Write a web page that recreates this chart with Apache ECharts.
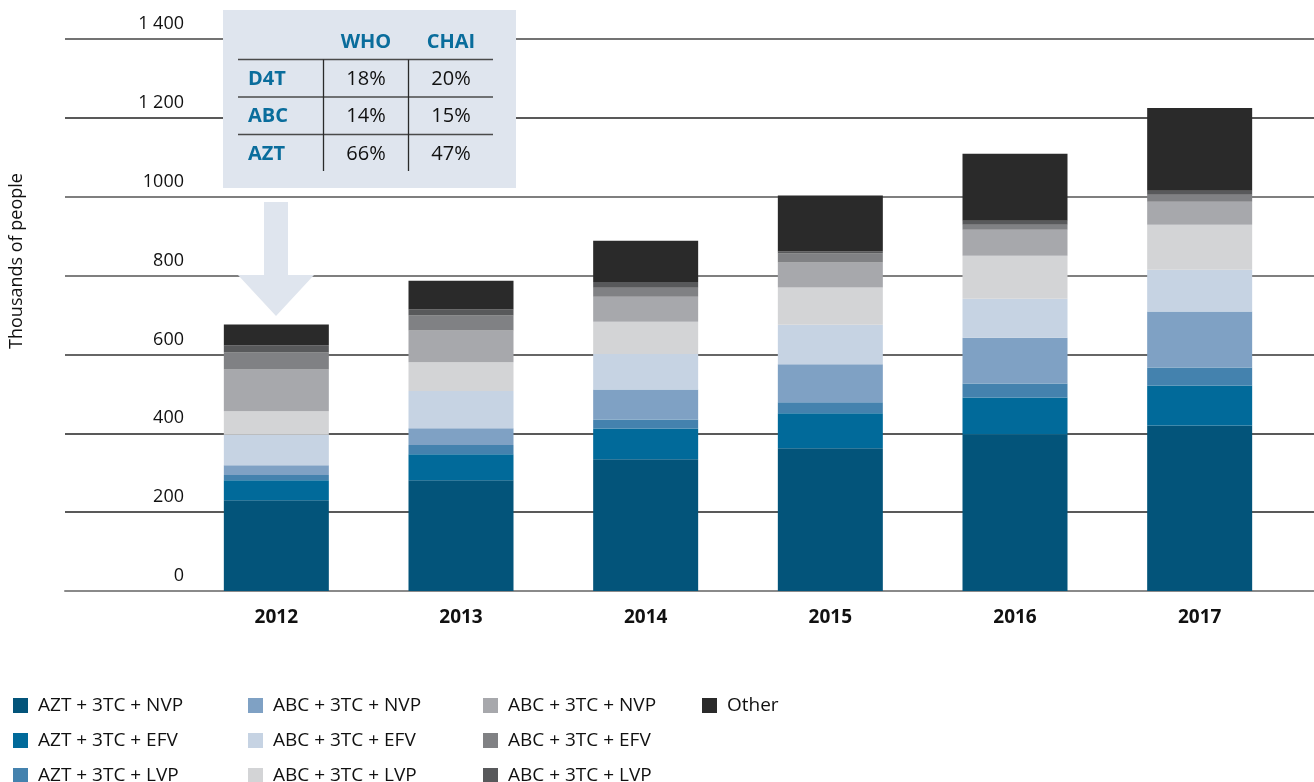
<!DOCTYPE html>
<html>
<head>
<meta charset="utf-8">
<script src="https://cdn.jsdelivr.net/npm/echarts@6/dist/echarts.min.js"></script>
<style>
html,body{margin:0;padding:0;background:#fff;}
#chart{width:1314px;height:782px;}
</style>
</head>
<body>
<div id="chart"></div>
<script>
// ---- data ----
var categories = ['2012', '2013', '2014', '2015', '2016', '2017'];
var aztNvp  = [230, 281, 334, 362, 397, 420];
var aztEfv  = [51, 66, 78, 89, 94, 101];
var aztLvp  = [13, 23, 23, 28, 35, 46];
var abcNvp  = [25, 43, 76, 96, 116, 142];
var abcEfv  = [77, 94, 90, 100, 99, 106];
var abcLvp  = [60, 73, 82, 95, 109, 114];
var greyNvp = [106, 81, 63, 63, 66, 58];
var greyEfv = [43, 38, 23, 23, 13, 18];
var greyLvp = [18, 15, 15, 5, 10, 10];
var other   = [53, 73, 104, 142, 170, 210];
var yTickLabels = ['0', '200', '400', '600', '800', '1000', '1 200', '1 400'];
var seriesNames = ['AZT + 3TC + NVP', 'AZT + 3TC + EFV', 'AZT + 3TC + LVP',
                   'ABC + 3TC + NVP', 'ABC + 3TC + EFV', 'ABC + 3TC + LVP',
                   'ABC + 3TC + NVP ', 'ABC + 3TC + EFV ', 'ABC + 3TC + LVP ',
                   'Other'];
var tableCols = ['WHO', 'CHAI'];
var tableRows = ['D4T', 'ABC', 'AZT'];
var tableVals = [['18%', '20%'], ['14%', '15%'], ['66%', '47%']];

// ---- styles ----
var seriesData = [aztNvp, aztEfv, aztLvp, abcNvp, abcEfv, abcLvp, greyNvp, greyEfv, greyLvp, other];
var colors = ['#03547a', '#016a9a', '#4482ae', '#7fa1c4', '#c6d3e3', '#d3d4d6', '#a7a8ac', '#808184', '#58595b', '#2a2a2a'];
var FONT = '"Open Sans", sans-serif';
var BOX = '#dfe5ee';
var BLUE = '#0a6d9c';

var chart = echarts.init(document.getElementById('chart'), null, {renderer: 'canvas'});

var series = seriesData.map(function (d, i) {
  return {
    name: seriesNames[i], type: 'bar', stack: 'total', data: d,
    xAxisIndex: 0, yAxisIndex: 0,
    barWidth: 105, itemStyle: {color: colors[i]}, emphasis: {disabled: true}
  };
});

function legendCol(names, left) {
  return {
    orient: 'vertical', left: left, top: 691, height: 160, width: 230,
    itemWidth: 15, itemHeight: 15, itemGap: 16,
    icon: 'rect', data: names, selectedMode: false,
    textStyle: {fontFamily: FONT, fontSize: 19, color: '#111', lineHeight: 18, padding: [0, 0, 0, 5]}
  };
}

var graphics = [];
// y-axis title
graphics.push({type: 'text', x: 17, y: 261, rotation: Math.PI / 2, z: 100,
  style: {text: 'Thousands of people', fill: '#111', font: '18px ' + FONT, align: 'center', verticalAlign: 'middle'}});
// table box
graphics.push({type: 'rect', shape: {x: 223, y: 10, width: 293, height: 178}, style: {fill: BOX}, z: 100});
// arrow
graphics.push({type: 'polygon', z: 100,
  shape: {points: [[264, 202], [288, 202], [288, 275], [314, 275], [276, 316], [238, 275], [264, 275]]},
  style: {fill: BOX}});
// table lines
[59.5, 97, 134.5].forEach(function (y) {
  graphics.push({type: 'line', z: 101, shape: {x1: 238, y1: y, x2: 493, y2: y}, style: {stroke: '#4a4a4a', lineWidth: 1.5}});
});
[323.5, 408.5].forEach(function (x) {
  graphics.push({type: 'line', z: 101, shape: {x1: x, y1: 59.5, x2: x, y2: 171}, style: {stroke: '#2a2a2a', lineWidth: 1.3}});
});
var colX = [366, 451];
var rowY = [79, 116, 154];
tableCols.forEach(function (t, j) {
  graphics.push({type: 'text', z: 102, x: colX[j], y: 42,
    style: {text: t, fill: BLUE, font: 'bold 20px ' + FONT, align: 'center', verticalAlign: 'middle'}});
});
tableRows.forEach(function (t, i) {
  graphics.push({type: 'text', z: 102, x: 248, y: rowY[i],
    style: {text: t, fill: BLUE, font: 'bold 20px ' + FONT, align: 'left', verticalAlign: 'middle'}});
  tableVals[i].forEach(function (v, j) {
    graphics.push({type: 'text', z: 102, x: colX[j], y: rowY[i],
      style: {text: v, fill: '#111', font: '20px ' + FONT, align: 'center', verticalAlign: 'middle'}});
  });
});

var option = {
  animation: false,
  backgroundColor: '#fff',
  textStyle: {fontFamily: FONT},
  grid: [
    {left: 184, right: 22, top: 39, bottom: 191},
    {left: 65, right: 0, top: 39, bottom: 191}
  ],
  xAxis: [
    {type: 'category', gridIndex: 0, data: categories,
     axisLine: {show: false}, axisTick: {show: false},
     axisLabel: {margin: 17, fontFamily: FONT, fontSize: 19, fontWeight: 'bold', color: '#111'}},
    {type: 'category', gridIndex: 1, data: categories, axisLabel: {show: false}, axisTick: {show: false},
     axisLine: {show: true, lineStyle: {color: '#8a8a8a', width: 2}}}
  ],
  yAxis: [
    {type: 'value', gridIndex: 0, min: 0, max: 1400, interval: 200,
     splitLine: {show: false}, axisLine: {show: false}, axisTick: {show: false},
     axisLabel: {margin: 0, fontFamily: FONT, fontSize: 18, color: '#111', verticalAlign: 'bottom',
       padding: [0, 0, 6, 0],
       formatter: function (v) { return yTickLabels[Math.round(v / 200)]; }}},
    {type: 'value', gridIndex: 1, min: 0, max: 1400, interval: 200,
     axisLabel: {show: false}, axisLine: {show: false}, axisTick: {show: false},
     splitLine: {show: true, lineStyle: {color: ['#8a8a8a', '#222', '#222', '#333', '#555', '#555', '#222', '#444'], width: 1.5}}}
  ],
  legend: [
    legendCol(seriesNames.slice(0, 3), 8),
    legendCol(seriesNames.slice(3, 6), 243),
    legendCol(seriesNames.slice(6, 9), 478),
    legendCol(seriesNames.slice(9, 10), 697)
  ],
  graphic: graphics,
  series: series
};
chart.setOption(option);
</script>
</body>
</html>
